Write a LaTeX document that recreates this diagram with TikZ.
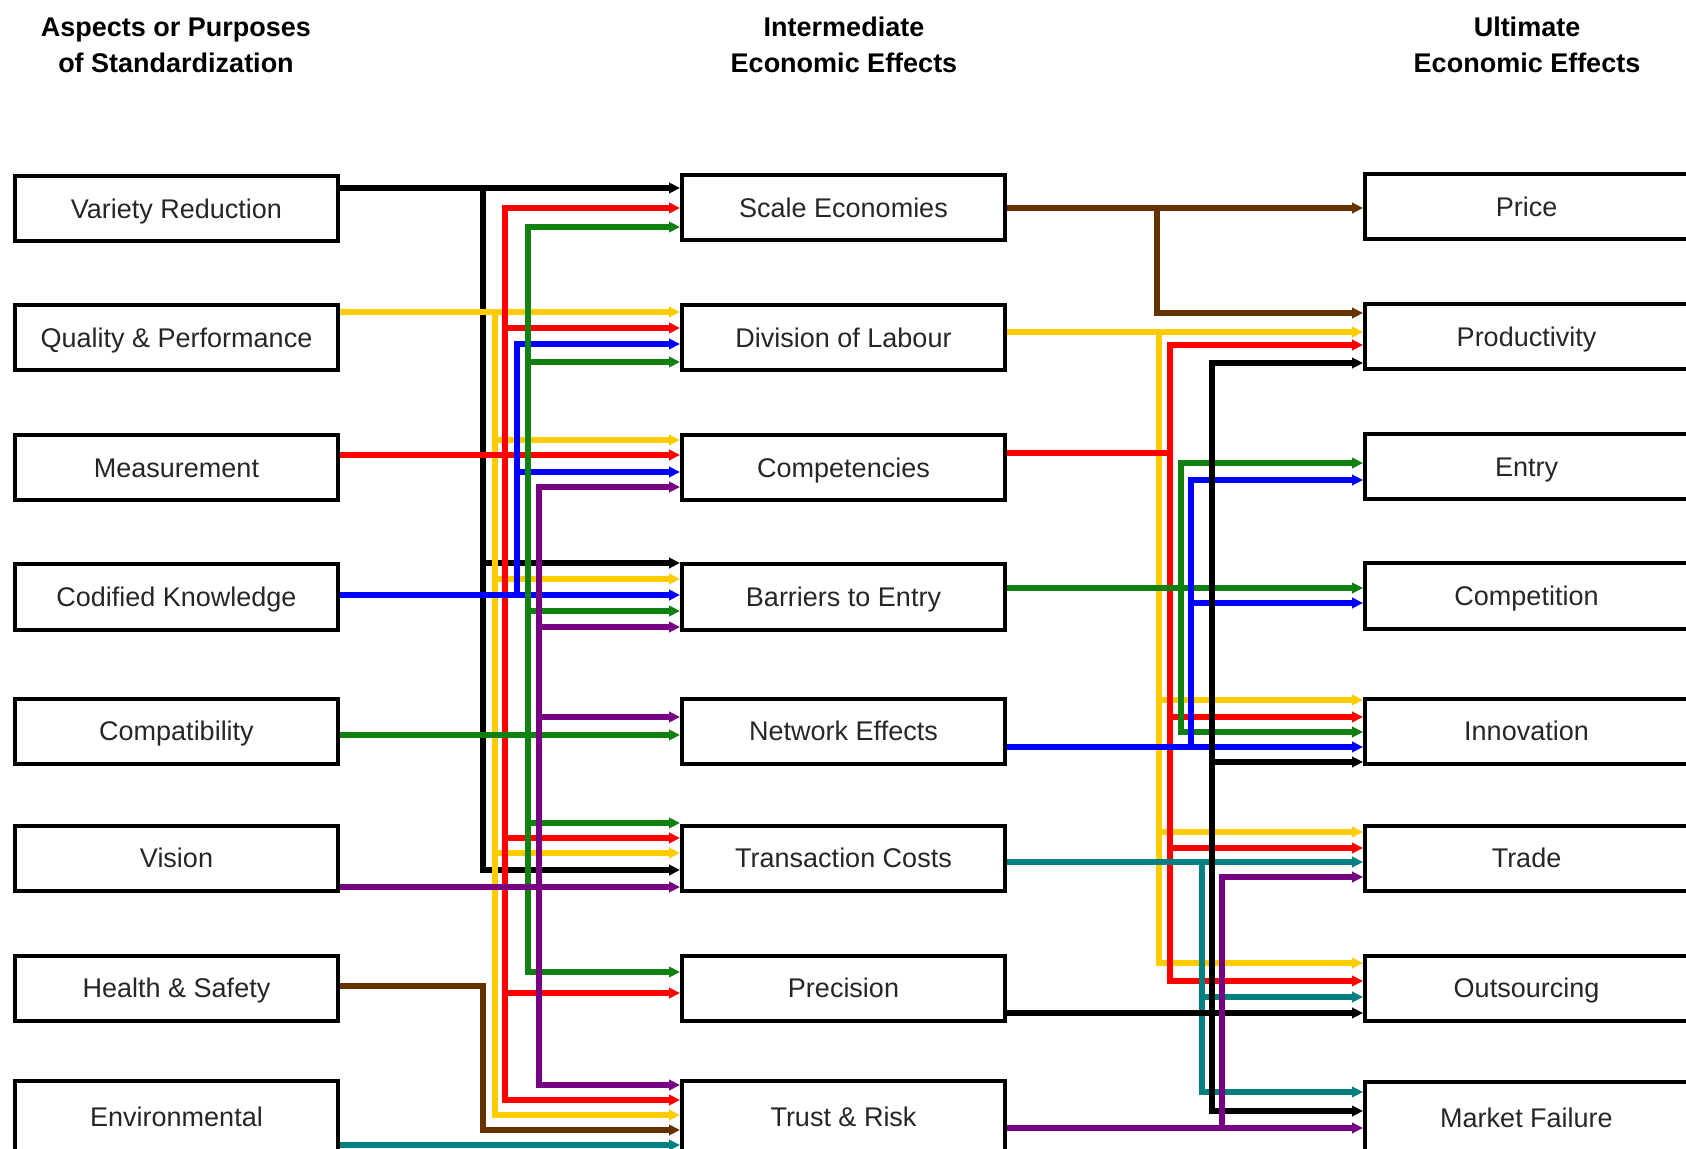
\documentclass[tikz,border=0pt]{standalone}
\usepackage{fontspec}
\setmainfont{Liberation Sans}
\usetikzlibrary{arrows.meta}
\definecolor{cgold}{RGB}{255,204,0}
\definecolor{cgreen}{RGB}{16,128,16}
\definecolor{cpurple}{RGB}{120,0,130}
\definecolor{cbrown}{RGB}{102,51,0}
\definecolor{cteal}{RGB}{0,128,128}
\begin{document}
\begin{tikzpicture}[x=0.5pt,y=-0.5pt,
  box/.style={draw,line width=2pt,minimum width=161.5pt,minimum height=32.5pt,inner sep=0pt,
    text height=9.7pt,text depth=0pt,text=black!85,font=\fontsize{13.5}{16}\selectfont},
  lastbox/.style={box,minimum height=36pt},
  head/.style={align=center,font=\fontsize{13.5}{18}\selectfont\bfseries},
  arr/.style={line width=2.8pt,-{Triangle[length=5.5pt,width=5.2pt]}}]
\useasboundingbox (0,0) rectangle (1686,1149);
\clip (0,0) rectangle (1686,1149);
% titles
\node[head] (h1) at (176,45) {Aspects or Purposes\\of Standardization};
\node[head] (h2) at (844,45) {Intermediate\\Economic Effects};
\node[head] (h3) at (1527,45) {Ultimate\\Economic Effects};
% aspects
\node[box] (vr) at (176.5,209) {Variety Reduction};
\node[box] (qp) at (176.5,338) {Quality \& Performance};
\node[box] (ms) at (176.5,468) {Measurement};
\node[box] (ck) at (176.5,597) {Codified Knowledge};
\node[box] (cp) at (176.5,731) {Compatibility};
\node[box] (vi) at (176.5,858) {Vision};
\node[box] (hs) at (176.5,988) {Health \& Safety};
\node[lastbox] (en) at (176.5,1117) {Environmental};
% intermediate effects
\node[box] (se) at (843.5,208) {Scale Economies};
\node[box] (dl) at (843.5,338) {Division of Labour};
\node[box] (co) at (843.5,468) {Competencies};
\node[box] (be) at (843.5,597) {Barriers to Entry};
\node[box] (ne) at (843.5,731) {Network Effects};
\node[box] (tc) at (843.5,858) {Transaction Costs};
\node[box] (pr) at (843.5,988) {Precision};
\node[lastbox] (tr) at (843.5,1117) {Trust \& Risk};
% ultimate effects
\node[box] (pc) at (1526.5,207) {Price};
\node[box] (pd) at (1526.5,337) {Productivity};
\node[box] (et) at (1526.5,467) {Entry};
\node[box] (cm) at (1526.5,596) {Competition};
\node[box] (iv) at (1526.5,731) {Innovation};
\node[box] (td) at (1526.5,858) {Trade};
\node[box] (os) at (1526.5,988) {Outsourcing};
\node[lastbox] (mf) at (1526.5,1118) {Market Failure};
% bus lines
\coordinate (kL) at (483,0);  \coordinate (yL) at (495,0);  \coordinate (rL) at (505,0);
\coordinate (bL) at (517,0);  \coordinate (gL) at (528,0);  \coordinate (pL) at (539,0);
\coordinate (nR) at (1157,0); \coordinate (yR) at (1159,0); \coordinate (rR) at (1170,0);
\coordinate (gR) at (1181,0); \coordinate (bR) at (1191,0); \coordinate (tR) at (1202,0);
\coordinate (kR) at (1212,0); \coordinate (pR) at (1222,0);
% variety reduction
\draw[arr] (vr.east |- 0,188) -- (se.west |- 0,188);
\draw[arr] (kL |- 0,188) |- (tc.west |- 0,870);
\draw[arr] (kL |- 0,563) -- (be.west |- 0,563);
% quality
\draw[arr,cgold] (qp.east |- 0,312) -- (dl.west |- 0,312);
\draw[arr,cgold] (yL |- 0,312) |- (tr.west |- 0,1115);
\draw[arr,cgold] (yL |- 0,440) -- (co.west |- 0,440);
\draw[arr,cgold] (yL |- 0,579) -- (be.west |- 0,579);
\draw[arr,cgold] (yL |- 0,853) -- (tc.west |- 0,853);
% measurement
\draw[arr,red] (ms.east |- 0,455) -- (co.west |- 0,455);
\draw[arr,red] (rL |- 0,455) |- (se.west |- 0,208);
\draw[arr,red] (rL |- 0,455) |- (tr.west |- 0,1100);
\draw[arr,red] (rL |- 0,328) -- (dl.west |- 0,328);
\draw[arr,red] (rL |- 0,838) -- (tc.west |- 0,838);
\draw[arr,red] (rL |- 0,993) -- (pr.west |- 0,993);
% codified knowledge
\draw[arr,blue] (ck.east |- 0,595) -- (be.west |- 0,595);
\draw[arr,blue] (bL |- 0,595) |- (dl.west |- 0,344);
\draw[arr,blue] (bL |- 0,472) -- (co.west |- 0,472);
% compatibility
\draw[arr,cgreen] (cp.east |- 0,735) -- (ne.west |- 0,735);
\draw[arr,cgreen] (gL |- 0,735) |- (se.west |- 0,227);
\draw[arr,cgreen] (gL |- 0,735) |- (pr.west |- 0,972);
\draw[arr,cgreen] (gL |- 0,362) -- (dl.west |- 0,362);
\draw[arr,cgreen] (gL |- 0,611) -- (be.west |- 0,611);
\draw[arr,cgreen] (gL |- 0,823) -- (tc.west |- 0,823);
% vision
\draw[arr,cpurple] (vi.east |- 0,887) -- (tc.west |- 0,887);
\draw[arr,cpurple] (pL |- 0,887) |- (co.west |- 0,487);
\draw[arr,cpurple] (pL |- 0,887) |- (tr.west |- 0,1085);
\draw[arr,cpurple] (pL |- 0,627) -- (be.west |- 0,627);
\draw[arr,cpurple] (pL |- 0,717) -- (ne.west |- 0,717);
% health, environment
\draw[arr,cbrown] (hs.east |- 0,986) -| (kL |- 0,1130) -- (tr.west |- 0,1130);
\draw[arr,cteal] (en.east |- 0,1145) -- (tr.west |- 0,1145);
% scale economies
\draw[arr,cbrown] (se.east |- 0,208) -- (pc.west |- 0,208);
\draw[arr,cbrown] (nR |- 0,208) |- (pd.west |- 0,313);
% division of labour
\draw[arr,cgold] (dl.east |- 0,332) -- (pd.west |- 0,332);
\draw[arr,cgold] (yR |- 0,332) |- (os.west |- 0,963);
\draw[arr,cgold] (yR |- 0,700) -- (iv.west |- 0,700);
\draw[arr,cgold] (yR |- 0,832) -- (td.west |- 0,832);
% competencies
\draw[arr,red] (co.east |- 0,453) -| (rR |- 0,345) -- (pd.west |- 0,345);
\draw[arr,red] (rR |- 0,453) |- (os.west |- 0,981);
\draw[arr,red] (rR |- 0,717) -- (iv.west |- 0,717);
\draw[arr,red] (rR |- 0,848) -- (td.west |- 0,848);
% barriers to entry
\draw[arr,cgreen] (be.east |- 0,588) -- (cm.west |- 0,588);
\draw[arr,cgreen] (gR |- 0,588) |- (et.west |- 0,463);
\draw[arr,cgreen] (gR |- 0,588) |- (iv.west |- 0,732);
% network effects
\draw[arr,blue] (ne.east |- 0,747) -- (iv.west |- 0,747);
\draw[arr,blue] (bR |- 0,747) |- (et.west |- 0,480);
\draw[arr,blue] (bR |- 0,603) -- (cm.west |- 0,603);
% transaction costs
\draw[arr,cteal] (tc.east |- 0,862) -- (td.west |- 0,862);
\draw[arr,cteal] (tR |- 0,862) |- (mf.west |- 0,1092);
\draw[arr,cteal] (tR |- 0,997) -- (os.west |- 0,997);
% precision
\draw[arr] (pr.east |- 0,1013) -- (os.west |- 0,1013);
\draw[arr] (kR |- 0,1013) |- (pd.west |- 0,363);
\draw[arr] (kR |- 0,1013) |- (mf.west |- 0,1111);
\draw[arr] (kR |- 0,762) -- (iv.west |- 0,762);
% trust and risk
\draw[arr,cpurple] (tr.east |- 0,1128) -- (mf.west |- 0,1128);
\draw[arr,cpurple] (pR |- 0,1128) |- (td.west |- 0,877);
\end{tikzpicture}
\end{document}
